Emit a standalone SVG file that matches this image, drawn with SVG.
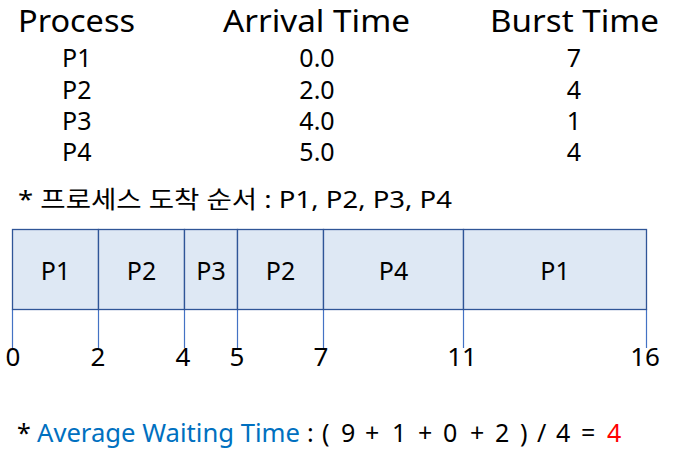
<svg xmlns="http://www.w3.org/2000/svg" width="678" height="456" viewBox="0 0 678 456">
<style>
text{font-family:"Noto Sans","Noto Sans CJK KR",sans-serif;fill:#000}
.h{font-size:30px}
.r{font-size:25px}
.c{font-size:25px;text-anchor:middle}
.t{font-size:26px;text-anchor:middle}
.cell{fill:#DEE8F4;stroke:#2F5597;stroke-width:1.3}
.tick{stroke:#4472C4;stroke-width:1.2}
</style>
<rect width="678" height="456" fill="#fff"/>
<g id="table">
<text class="h" x="18" y="32" textLength="117" lengthAdjust="spacingAndGlyphs">Process</text>
<text class="h" x="223" y="32" textLength="187" lengthAdjust="spacingAndGlyphs">Arrival Time</text>
<text class="h" x="490" y="32" textLength="169" lengthAdjust="spacingAndGlyphs">Burst Time</text>
<text class="r" x="62" y="67">P1</text>
<text class="r" x="62" y="99">P2</text>
<text class="r" x="62" y="130">P3</text>
<text class="r" x="62" y="161">P4</text>
<text class="c" x="317" y="67">0.0</text>
<text class="c" x="317" y="99">2.0</text>
<text class="c" x="317" y="130">4.0</text>
<text class="c" x="317" y="161">5.0</text>
<text class="c" x="574" y="67">7</text>
<text class="c" x="574" y="99">4</text>
<text class="c" x="574" y="130">1</text>
<text class="c" x="574" y="161">4</text>
</g>
<text id="order" x="18" y="208" style="font-size:24px" textLength="434" lengthAdjust="spacingAndGlyphs">* 프로세스 도착 순서 : P1, P2, P3, P4</text>
<g id="connectors">
<line class="tick" x1="12.5" y1="309" x2="12.5" y2="348"/>
<line class="tick" x1="98.5" y1="309" x2="98.5" y2="348"/>
<line class="tick" x1="184.5" y1="309" x2="184.5" y2="348"/>
<line class="tick" x1="237.5" y1="309" x2="237.5" y2="348"/>
<line class="tick" x1="323.5" y1="309" x2="323.5" y2="348"/>
<line class="tick" x1="463.5" y1="309" x2="463.5" y2="348"/>
<line class="tick" x1="646.5" y1="309" x2="646.5" y2="348"/>
</g>
<g id="seg1"><rect class="cell" x="12.5" y="229.5" width="86" height="80"/><text class="c" x="55.5" y="280">P1</text></g>
<g id="seg2"><rect class="cell" x="98.5" y="229.5" width="86" height="80"/><text class="c" x="141.5" y="280">P2</text></g>
<g id="seg3"><rect class="cell" x="184.5" y="229.5" width="53" height="80"/><text class="c" x="211" y="280">P3</text></g>
<g id="seg4"><rect class="cell" x="237.5" y="229.5" width="86" height="80"/><text class="c" x="280.5" y="280">P2</text></g>
<g id="seg5"><rect class="cell" x="323.5" y="229.5" width="140" height="80"/><text class="c" x="393.5" y="280">P4</text></g>
<g id="seg6"><rect class="cell" x="463.5" y="229.5" width="183" height="80"/><text class="c" x="555" y="280">P1</text></g>
<g id="axis">
<text class="t" x="13" y="366">0</text>
<text class="t" x="98" y="366">2</text>
<text class="t" x="183" y="366">4</text>
<text class="t" x="237" y="366">5</text>
<text class="t" x="321" y="366">7</text>
<text class="t" x="462" y="366">11</text>
<text class="t" x="645" y="366">16</text>
</g>
<text id="avg" y="442" style="font-size:25px"><tspan x="17">*</tspan><tspan x="37" fill="#0070C0" textLength="263" lengthAdjust="spacingAndGlyphs">Average Waiting Time</tspan><tspan x="307">:</tspan><tspan x="322">(</tspan><tspan x="341">9</tspan><tspan x="365">+</tspan><tspan x="392">1</tspan><tspan x="418">+</tspan><tspan x="443">0</tspan><tspan x="470">+</tspan><tspan x="495">2</tspan><tspan x="520">)</tspan><tspan x="537">/</tspan><tspan x="556">4</tspan><tspan x="581">=</tspan><tspan x="607" fill="#FF0000">4</tspan></text>
</svg>
